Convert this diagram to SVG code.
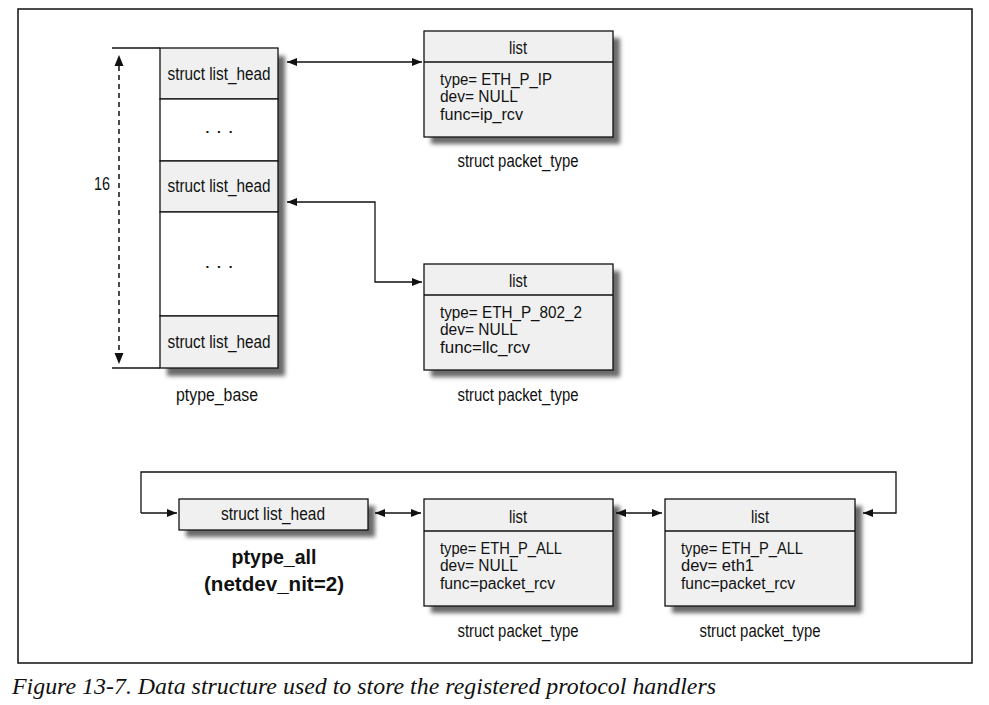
<svg xmlns="http://www.w3.org/2000/svg" width="989" height="705" viewBox="0 0 989 705">
<style>
.t{font-family:"Liberation Sans",Arial,sans-serif;font-size:17.5px;fill:#111}
.f{font-size:16px}
.c{text-anchor:middle}
.b{font-weight:bold;font-size:21px}
.box{fill:#f0f0f0;stroke:#111;stroke-width:1.3}
.wb{fill:#fff;stroke:#111;stroke-width:1.3}
.sh{fill:#6a6a6a;filter:url(#blur)}
.ln{fill:none;stroke:#111;stroke-width:1.3}
.cap{font-family:"Liberation Serif","Times New Roman",serif;font-style:italic;font-size:24px;fill:#111}
</style>
<defs>
<filter id="blur" x="-10%" y="-10%" width="120%" height="120%"><feGaussianBlur stdDeviation="2"/></filter>
<marker id="ae" viewBox="0 0 10 8" refX="10" refY="4" markerWidth="10" markerHeight="8" markerUnits="userSpaceOnUse" orient="auto"><path d="M0,0 L10,4 L0,8 Z" fill="#111"/></marker>
<marker id="as" viewBox="0 0 10 8" refX="0" refY="4" markerWidth="10" markerHeight="8" markerUnits="userSpaceOnUse" orient="auto"><path d="M10,0 L0,4 L10,8 Z" fill="#111"/></marker>
</defs>
<rect width="989" height="705" fill="#fff"/>
<rect x="18" y="9" width="954" height="654" fill="none" stroke="#111" stroke-width="1.5"/>

<g id="ptype_base">
<rect class="sh" x="167" y="56" width="118" height="320"/>
<rect class="box" x="160" y="48" width="118" height="51"/>
<rect class="wb" x="160" y="99" width="118" height="62"/>
<rect class="box" x="160" y="161" width="118" height="51"/>
<rect class="wb" x="160" y="212" width="118" height="104"/>
<rect class="box" x="160" y="316" width="118" height="52"/>
<text class="t c" x="219" y="80" textLength="103" lengthAdjust="spacingAndGlyphs">struct list_head</text>
<text class="t c" x="219" y="133" textLength="29" lengthAdjust="spacingAndGlyphs">. . .</text>
<text class="t c" x="219" y="192" textLength="103" lengthAdjust="spacingAndGlyphs">struct list_head</text>
<text class="t c" x="219" y="268" textLength="29" lengthAdjust="spacingAndGlyphs">. . .</text>
<text class="t c" x="219" y="348" textLength="103" lengthAdjust="spacingAndGlyphs">struct list_head</text>
<text class="t c" x="217" y="401" textLength="82" lengthAdjust="spacingAndGlyphs">ptype_base</text>
</g>

<g id="dimension">
<line class="ln" x1="112" y1="48" x2="160" y2="48"/>
<line class="ln" x1="112" y1="368" x2="160" y2="368"/>
<line x1="119" y1="66" x2="119" y2="356" stroke="#111" stroke-width="1.5" stroke-dasharray="5,4"/>
<path d="M119,55 L114.5,66 L123.5,66 Z" fill="#111"/>
<path d="M119,364 L114.5,353 L123.5,353 Z" fill="#111"/>
<text class="t" x="94" y="190" textLength="16" lengthAdjust="spacingAndGlyphs">16</text>
</g>

<g id="pt_ip">
<rect class="sh" x="431" y="38" width="189" height="106"/>
<rect class="box" x="424" y="31" width="189" height="106"/>
<line class="ln" x1="424" y1="62" x2="613" y2="62"/>
<text class="t c" x="518" y="54" textLength="18" lengthAdjust="spacingAndGlyphs">list</text>
<text class="t f" x="440" y="84.5" textLength="112" lengthAdjust="spacingAndGlyphs">type= ETH_P_IP</text>
<text class="t f" x="440" y="102" textLength="78" lengthAdjust="spacingAndGlyphs">dev= NULL</text>
<text class="t f" x="440" y="119.5" textLength="83" lengthAdjust="spacingAndGlyphs">func=ip_rcv</text>
<text class="t c" x="518" y="167" textLength="121" lengthAdjust="spacingAndGlyphs">struct packet_type</text>
</g>

<g id="pt_802">
<rect class="sh" x="431" y="271" width="189" height="106"/>
<rect class="box" x="424" y="264" width="189" height="106"/>
<line class="ln" x1="424" y1="295" x2="613" y2="295"/>
<text class="t c" x="518" y="287" textLength="18" lengthAdjust="spacingAndGlyphs">list</text>
<text class="t f" x="440" y="317.5" textLength="142" lengthAdjust="spacingAndGlyphs">type= ETH_P_802_2</text>
<text class="t f" x="440" y="335" textLength="78" lengthAdjust="spacingAndGlyphs">dev= NULL</text>
<text class="t f" x="440" y="352.5" textLength="90" lengthAdjust="spacingAndGlyphs">func=llc_rcv</text>
<text class="t c" x="518" y="401" textLength="121" lengthAdjust="spacingAndGlyphs">struct packet_type</text>
</g>

<g id="ptype_all">
<rect class="sh" x="186" y="506" width="189" height="31"/>
<rect class="box" x="179" y="499" width="189" height="31"/>
<text class="t c" x="273" y="520" textLength="104" lengthAdjust="spacingAndGlyphs">struct list_head</text>
<text class="t c b" x="274" y="564" textLength="85" lengthAdjust="spacingAndGlyphs">ptype_all</text>
<text class="t c b" x="274" y="591" textLength="140" lengthAdjust="spacingAndGlyphs">(netdev_nit=2)</text>
</g>

<g id="pt_all_null">
<rect class="sh" x="431" y="506" width="189" height="107"/>
<rect class="box" x="424" y="499" width="189" height="107"/>
<line class="ln" x1="424" y1="531" x2="613" y2="531"/>
<text class="t c" x="518" y="523" textLength="18" lengthAdjust="spacingAndGlyphs">list</text>
<text class="t f" x="440" y="553.5" textLength="122" lengthAdjust="spacingAndGlyphs">type= ETH_P_ALL</text>
<text class="t f" x="440" y="571" textLength="78" lengthAdjust="spacingAndGlyphs">dev= NULL</text>
<text class="t f" x="440" y="588.5" textLength="115" lengthAdjust="spacingAndGlyphs">func=packet_rcv</text>
<text class="t c" x="518" y="637" textLength="121" lengthAdjust="spacingAndGlyphs">struct packet_type</text>
</g>

<g id="pt_all_eth1">
<rect class="sh" x="672" y="506" width="190" height="107"/>
<rect class="box" x="665" y="499" width="190" height="107"/>
<line class="ln" x1="665" y1="531" x2="855" y2="531"/>
<text class="t c" x="760" y="523" textLength="18" lengthAdjust="spacingAndGlyphs">list</text>
<text class="t f" x="681" y="553.5" textLength="122" lengthAdjust="spacingAndGlyphs">type= ETH_P_ALL</text>
<text class="t f" x="681" y="571" textLength="73" lengthAdjust="spacingAndGlyphs">dev= eth1</text>
<text class="t f" x="681" y="588.5" textLength="114" lengthAdjust="spacingAndGlyphs">func=packet_rcv</text>
<text class="t c" x="760" y="637" textLength="121" lengthAdjust="spacingAndGlyphs">struct packet_type</text>
</g>

<g id="connectors">
<line class="ln" x1="287" y1="62" x2="422" y2="62" marker-start="url(#as)" marker-end="url(#ae)"/>
<polyline class="ln" points="287,202 375,202 375,282 422,282" marker-start="url(#as)" marker-end="url(#ae)"/>
<polyline class="ln" points="141,513 141,472 896,472 896,513 863,513" marker-end="url(#ae)"/>
<line class="ln" x1="141" y1="513" x2="177" y2="513" marker-end="url(#ae)"/>
<line class="ln" x1="375" y1="513" x2="421" y2="513" marker-start="url(#as)" marker-end="url(#ae)"/>
<line class="ln" x1="616" y1="513" x2="662" y2="513" marker-start="url(#as)" marker-end="url(#ae)"/>
</g>

<text class="cap" x="12" y="694" textLength="704" lengthAdjust="spacingAndGlyphs">Figure 13-7. Data structure used to store the registered protocol handlers</text>
</svg>
